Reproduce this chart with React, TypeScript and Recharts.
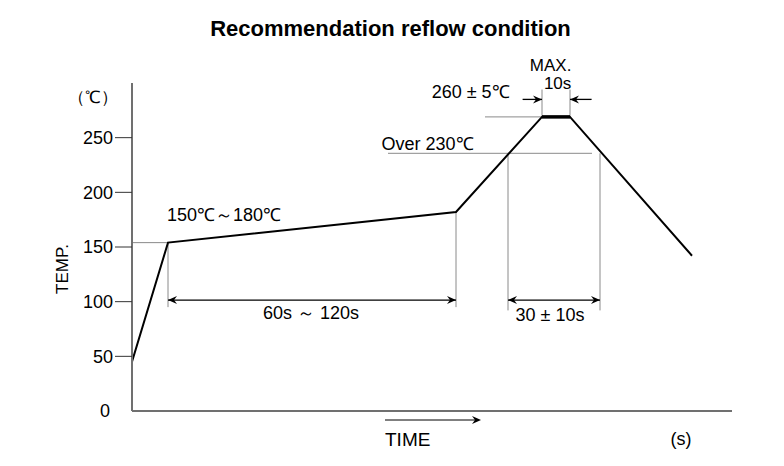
import { LineChart, Line, XAxis, YAxis, ReferenceLine, ReferenceDot } from "recharts";

// reflow profile: time (s, schematic) vs temperature (°C)
const profileTime = [0, 18, 162, 205, 219, 280];
const profileTemp = [45, 154, 182, 269, 269, 142];
const peakTime = [205, 219];
const peakTemp = [269, 269];
const tempTicks = [0, 50, 100, 150, 200, 250];

// gray guide segments: [t1, v1, t2, v2]
const guides: number[][] = [
  [0, 154, 18, 154],
  [18, 154, 18, 95],
  [162, 182, 162, 95],
  [128, 235.7, 230, 235.7],
  [188, 235.7, 188, 92],
  [234, 235.7, 234, 92],
  [176.5, 269, 205, 269],
  [205, 269, 205, 294],
  [219, 269, 219, 294],
];

// dimension arrows: [t1, t2, v, both ends?]
const arrows: [number, number, number, boolean][] = [
  [18, 162, 101.5, true],
  [188, 234, 101.5, true],
  [195.3, 205, 285, false],
  [229.8, 219, 285, false],
];

const labels = [
  { text: "150℃～180℃", t: 46, v: 179.3, size: 18 },
  { text: "60s ～ 120s", t: 89.5, v: 89.6, size: 18 },
  { text: "30 ± 10s", t: 209, v: 87.8, size: 18 },
  { text: "Over 230℃", t: 147.8, v: 245, size: 18 },
  { text: "260 ± 5℃", t: 169.3, v: 292, size: 18 },
  { text: "MAX.", t: 209.3, v: 316.5, size: 17 },
  { text: "10s", t: 212.8, v: 300, size: 17 },
];

const profile = profileTime.map((t, i) => ({ t, v: profileTemp[i] }));
const peak = peakTime.map((t, i) => ({ t, v: peakTemp[i] }));

const arrowDot = (props: any) => {
  const { cx, cy, payload, index } = props;
  if (!payload.head) return <g key={index} />;
  const d = payload.head;
  return (
    <path
      key={index}
      d={`M${cx},${cy} L${cx - d * 9},${cy - 4} L${cx - d * 6},${cy} L${cx - d * 9},${cy + 4} Z`}
      fill="#000"
      stroke="none"
    />
  );
};

const TempTick = (props: any) => {
  const { x, y, payload } = props;
  const zero = payload.value === 0;
  return (
    <g>
      {!zero && <line x1={x + 2} x2={x + 19} y1={y} y2={y} stroke="#333" strokeWidth={1} />}
      <text x={zero ? x - 3 : x} y={y} dy="0.35em" textAnchor="end" fontSize={18} fill="#000">
        {payload.value}
      </text>
    </g>
  );
};

export default function App() {
  return (
    <div
      style={{
        position: "absolute",
        left: 0,
        top: 0,
        width: 784,
        height: 466,
        background: "#fff",
        fontFamily: '"Liberation Sans", Arial, sans-serif',
      }}
    >
      <LineChart width={784} height={466} margin={{ top: 83, right: 52, bottom: 25, left: 72 }}>
        <XAxis
          type="number"
          dataKey="t"
          domain={[0, 300]}
          allowDataOverflow
          tick={false}
          tickLine={false}
          height={30}
          axisLine={{ stroke: "#707070", strokeWidth: 2 }}
        />
        <YAxis
          type="number"
          dataKey="v"
          domain={[0, 300]}
          ticks={tempTicks}
          interval={0}
          width={60}
          tickSize={17}
          tickLine={false}
          tick={<TempTick />}
          axisLine={{ stroke: "#707070", strokeWidth: 2 }}
        />
        {guides.map((g, i) => (
          <ReferenceLine
            key={"g" + i}
            segment={[
              { x: g[0], y: g[1] },
              { x: g[2], y: g[3] },
            ]}
            stroke="#8a8a8a"
            strokeWidth={1}
          />
        ))}
        <Line
          data={profile}
          dataKey="v"
          type="linear"
          stroke="#000"
          strokeWidth={2}
          dot={false}
          isAnimationActive={false}
        />
        <Line
          data={peak}
          dataKey="v"
          type="linear"
          stroke="#000"
          strokeWidth={3.5}
          dot={false}
          isAnimationActive={false}
        />
        {arrows.map((a, i) => {
          const dir = Math.sign(a[1] - a[0]);
          const pts = [
            { t: a[0], v: a[2], head: a[3] ? -dir : 0 },
            { t: a[1], v: a[2], head: dir },
          ];
          return (
            <Line
              key={"a" + i}
              data={pts}
              dataKey="v"
              type="linear"
              stroke="#000"
              strokeWidth={1.3}
              dot={arrowDot}
              activeDot={false}
              isAnimationActive={false}
            />
          );
        })}
        {labels.map((l, i) => (
          <ReferenceDot
            key={"l" + i}
            x={l.t}
            y={l.v}
            r={0}
            ifOverflow="visible"
            fill="none"
            stroke="none"
            label={{ value: l.text, position: "center", fontSize: l.size, fill: "#000" }}
          />
        ))}
        <text x={390.5} y={36} textAnchor="middle" fontSize={22} fontWeight="bold" fill="#000">
          Recommendation reflow condition
        </text>
        <text x={93} y={97} dy="0.35em" textAnchor="middle" fontSize={17} fill="#000">
          （℃）
        </text>
        <text
          x={62}
          y={269}
          dy="0.35em"
          textAnchor="middle"
          fontSize={17}
          fill="#000"
          transform="rotate(-90 62 269)"
        >
          TEMP.
        </text>
        <line x1={385} y1={420} x2={478} y2={420} stroke="#000" strokeWidth={1} />
        <path d="M481,420 L472,416 L475,420 L472,424 Z" fill="#000" />
        <text x={385} y={446} fontSize={19} fill="#000">
          TIME
        </text>
        <text x={681} y={439} dy="0.35em" textAnchor="middle" fontSize={18} fill="#000">
          (s)
        </text>
      </LineChart>
    </div>
  );
}
